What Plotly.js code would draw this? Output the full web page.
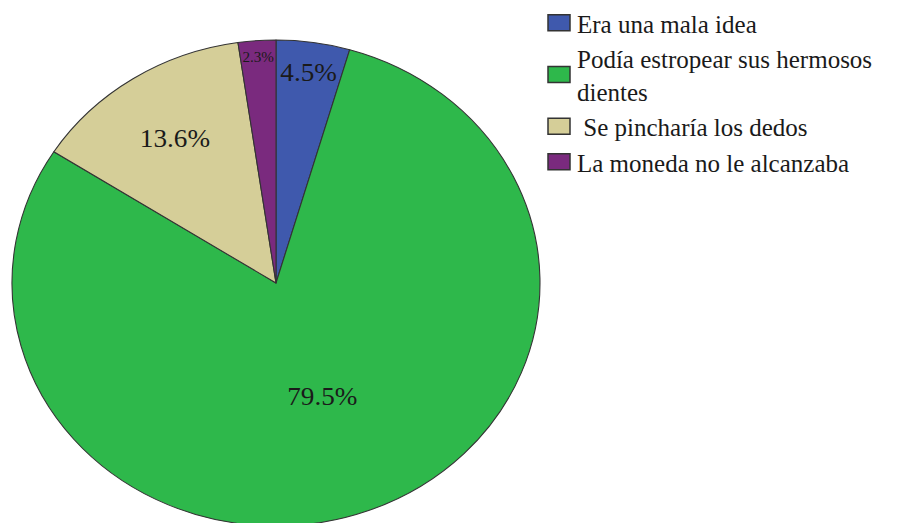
<!DOCTYPE html>
<html>
<head>
<meta charset="utf-8">
<script src="https://cdn.plot.ly/plotly-3.0.1.min.js"></script>
<style>
html,body{margin:0;padding:0;overflow:hidden;background:#fff;}
#chart{width:912px;height:560px;}
</style>
</head>
<body>
<div id="chart"></div>
<script>
const labels = ["Era una mala idea", "Podía estropear sus hermosos<br>dientes", " Se pincharía los dedos", "La moneda no le alcanzaba"];
const percents = [4.5, 79.5, 13.6, 2.3];
const colors = ["#3f59ad", "#2eb84b", "#d5ce98", "#7a2a7e"];

const W = 912, H = 560;
const cx = 276, cy = 283, ry = 243, rx = 264;
const serif = "Liberation Serif";

const trace = {
  type: "pie",
  labels: labels,
  values: percents,
  sort: false,
  direction: "clockwise",
  rotation: 0,
  marker: {colors: colors, line: {color: "#333333", width: 1}},
  texttemplate: "%{value:.1f}%",
  textposition: "inside",
  insidetextorientation: "horizontal",
  textfont: {family: serif, size: 25, color: "#1a1a1a"},
  hoverinfo: "none",
  domain: {x: [(cx - ry) / W, (cx + ry) / W], y: [1 - (cy + ry) / H, 1 - (cy - ry) / H]}
};

const layout = {
  width: W, height: H,
  margin: {l: 0, r: 0, t: 0, b: 0},
  paper_bgcolor: "#ffffff",
  showlegend: true,
  legend: {
    x: 537 / W, y: 1, xanchor: "left", yanchor: "top",
    font: {family: serif, size: 25, color: "#1a1a1a"},
    itemwidth: 30,
    tracegroupgap: 0
  }
};

Plotly.newPlot("chart", [trace], layout, {staticPlot: true}).then(function (gd) {
  // the reference pie is slightly elliptical (wider than tall)
  const s = rx / ry;
  const g = gd.querySelector(".pielayer");
  if (g) g.setAttribute("transform", "translate(" + cx + ",0) scale(" + s + ",1) translate(" + (-cx) + ",0)");
  // larger legend swatches, as in the reference
  gd.querySelectorAll(".legend path.legendpie").forEach(function (p) {
    p.setAttribute("d", "M13,8H-9V-8H13Z");
    p.style.strokeWidth = "1.5px";
  });
});
</script>
</body>
</html>
